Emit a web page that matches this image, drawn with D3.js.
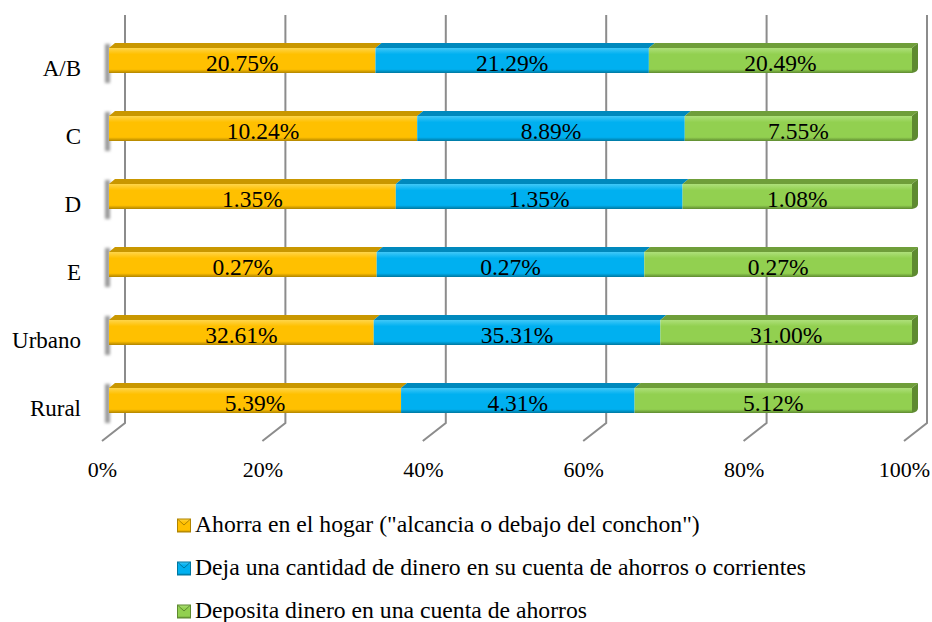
<!DOCTYPE html>
<html><head><meta charset="utf-8">
<script src="https://cdn.jsdelivr.net/npm/d3@7"></script>
<style>body{margin:0;background:#fff}svg{display:block}</style>
</head><body>
<svg id="c" width="932" height="622" font-family="Liberation Serif, Times New Roman, DejaVu Serif, serif"></svg>
<script>
const categories = ["A/B","C","D","E","Urbano","Rural"];
const seriesNames = ['Ahorra en el hogar ("alcancia o debajo del conchon")','Deja una cantidad de dinero en su cuenta de ahorros o corrientes','Deposita dinero en una cuenta de ahorros'];
const ahorraHogar = [20.75,10.24,1.35,0.27,32.61,5.39];
const dejaCuenta = [21.29,8.89,1.35,0.27,35.31,4.31];
const depositaCuenta = [20.49,7.55,1.08,0.27,31.00,5.12];
const tickValues = [0,20,40,60,80,100];

const FONT = "Liberation Serif, Times New Roman, DejaVu Serif, serif";
const frontCol = ["#FFC000","#00B0F0","#92D050"];
const topCol = ["#C99700","#0089BD","#6F9E3A"];
const darkCol = ["#B08400","#00779F","#5E8A30"];
const lightCol = ["#FFD54A","#40C8F8","#AEE07A"];

const svg = d3.select("#c");
const defs = svg.append("defs");
frontCol.forEach((c,i)=>{
  const g = defs.append("linearGradient").attr("id","g"+i).attr("x1",0).attr("y1",0).attr("x2",0).attr("y2",1);
  g.append("stop").attr("offset","0%").attr("stop-color",lightCol[i]);
  g.append("stop").attr("offset","25%").attr("stop-color",c);
  g.append("stop").attr("offset","85%").attr("stop-color",c);
  g.append("stop").attr("offset","100%").attr("stop-color",darkCol[i]);
});
const f = defs.append("filter").attr("id","blur").attr("x","-2").attr("y","-1").attr("width","5").attr("height","3");
f.append("feGaussianBlur").attr("stdDeviation",1.6);

const xBack = d3.scaleLinear().domain([0,100]).range([125,927]);
const xFloor = d3.scaleLinear().domain([0,100]).range([102,904]);
const gridTop = 15, backBottom = 423, floorY = 441;

const grid = svg.append("g");
tickValues.forEach(t=>{
  grid.append("path").attr("d",`M${xBack(t)},${gridTop}L${xBack(t)},${backBottom}L${xFloor(t)},${floorY}`)
    .attr("fill","none").attr("stroke","#8c8c8c").attr("stroke-width",2);
});
const axisG = svg.append("g").attr("transform",`translate(0,${floorY})`)
  .call(d3.axisBottom(xFloor).tickValues(tickValues).tickFormat(d=>d+"%").tickSize(0).tickPadding(0));
axisG.select(".domain").remove();
axisG.attr("font-family",FONT).attr("font-size",22);
axisG.selectAll("text").attr("font-size",22).attr("font-family",FONT).attr("fill","#000").attr("dy",null).attr("y",36);

const yc = d3.scalePoint().domain(categories).range([60.5,400.5]);
const x = d3.scaleLinear().domain([0,1]).range([109,912]);
const bh = 25, dx = 6, dy = -5;
const series = [ahorraHogar,dejaCuenta,depositaCuenta];

categories.forEach((cat,ci)=>{
  const vals = series.map(s=>s[ci]);
  const total = d3.sum(vals);
  const cy = yc(cat), y0 = cy - bh/2;
  svg.append("rect").attr("x",x(0)-4).attr("y",y0-4).attr("width",5).attr("height",bh+14)
    .attr("fill","#9a9a9a").attr("filter","url(#blur)");
  let acc = 0;
  vals.forEach((v,si)=>{
    const a = x(acc/total), b = x((acc+v)/total);
    acc += v;
    svg.append("path").attr("d",`M${a},${y0}L${a+dx},${y0+dy}L${b+dx},${y0+dy}L${b},${y0}Z`).attr("fill",topCol[si]);
    svg.append("rect").attr("x",a).attr("y",y0).attr("width",b-a).attr("height",bh).attr("fill",`url(#g${si})`);
    if(si===2){
      svg.append("path").attr("d",`M${b},${y0}L${b+dx},${y0+dy}L${b+dx},${y0+bh+dy}Q${b+dx},${y0+bh-1} ${b},${y0+bh}Z`).attr("fill",darkCol[si]);
    }
    svg.append("text").attr("x",(a+b)/2).attr("y",cy+10.5).attr("text-anchor","middle").attr("font-family",FONT).attr("font-size",23.5).text(v.toFixed(2)+"%");
  });
  svg.append("text").attr("x",81).attr("y",cy+15.5).attr("text-anchor","end").attr("font-family",FONT).attr("font-size",23).text(cat);
});

const lg = svg.append("g");
seriesNames.forEach((n,i)=>{
  const bl = 532 + i*43;
  lg.append("rect").attr("x",177.5).attr("y",bl-13).attr("width",13).attr("height",13).attr("fill",`url(#g${i})`).attr("stroke",darkCol[i]).attr("stroke-width",1);
  lg.append("path").attr("d",`M178,${bl-12.5}L184,${bl-7}L190,${bl-12.5}`).attr("fill","none").attr("stroke",darkCol[i]).attr("stroke-width",1);
  lg.append("text").attr("x",195).attr("y",bl).attr("font-family",FONT).attr("font-size",23.7).text(n);
});
</script>
</body></html>
